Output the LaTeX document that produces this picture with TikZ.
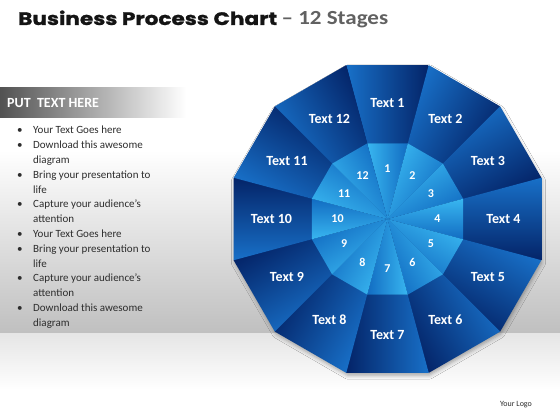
\documentclass[tikz,border=0pt]{standalone}
\usepackage{fontspec}
\setmainfont{Carlito}
\newfontfamily\titlefont[FakeStretch=1.2, FakeBold=1.2]{Poppins}
\newfontfamily\subfont[FakeStretch=1.15]{Carlito}
\usetikzlibrary{shadows.blur}
\definecolor{outL}{RGB}{24,112,200}
\definecolor{outD}{RGB}{4,36,104}
\definecolor{inL}{RGB}{56,182,240}
\definecolor{inD}{RGB}{18,108,194}
\definecolor{txtgray}{RGB}{45,45,45}
\tikzset{
  seglbl/.style={text=white, font=\bfseries\fontsize{14}{16}\selectfont, inner sep=0pt},
  numlbl/.style={text=white, font=\bfseries\fontsize{12}{14}\selectfont, inner sep=0pt},
}
\begin{document}
\begin{tikzpicture}[x=1pt,y=1pt]
\useasboundingbox (0,0) rectangle (560,420);
\fill[white] (0,0) rectangle (560,420);
% background gradient
\shade[top color=white, bottom color=black!25] (0,86) rectangle (560,270);
\shade[top color=black!10, bottom color=white] (0,30) rectangle (560,86);
% title
\node[anchor=base west, inner sep=0pt, text=black!92, font=\titlefont\bfseries\fontsize{18}{20}\selectfont] (title) at (18,395) {Business Process Chart};
\node[anchor=base west, inner sep=0pt, text=black!62, font=\subfont\bfseries\fontsize{20}{22}\selectfont] (sub) at ([xshift=4pt]title.base east) {– 12 Stages};
% header bar
\shade[left color=black!68, right color=white] (0,302) rectangle (186,332);
\node[anchor=west, inner sep=0pt, text=white, font=\bfseries\fontsize{14}{16}\selectfont] (hdr) at (7,317) {PUT\ \ TEXT HERE};
% bullet list
\node[anchor=base west, inner sep=0pt, text=txtgray, font=\fontsize{11}{14.8}\selectfont] (list) at (17,286) {%
\begin{tabular}[t]{@{}p{16pt}@{}l@{}}
• & Your Text Goes here\\
• & Download this awesome\\
  & diagram\\
• & Bring your presentation to\\
  & life\\
• & Capture your audience’s\\
  & attention\\
• & Your Text Goes here\\
• & Bring your presentation to\\
  & life\\
• & Capture your audience’s\\
  & attention\\
• & Download this awesome\\
  & diagram
\end{tabular}};
% logo
\node[inner sep=0pt, text=txtgray, font=\fontsize{8}{10}\selectfont] (logo) at (516,15) {Your Logo};
% dodecagon
\begin{scope}[shift={(387.5,201)}]
  \path[fill=outD, blur shadow={shadow xshift=1pt, shadow yshift=-3pt, shadow blur radius=4pt, shadow opacity=35}]
    (15:158.5) \foreach \i in {1,...,11}{ -- (15+30*\i:158.5)} -- cycle;
  \foreach \k in {1,...,12}{
    \pgfmathsetmacro{\a}{90-30*(\k-1)}
    \shade[top color=outL, bottom color=outD, shading angle=\a]
      (\a+15:78) -- (\a+15:159.3) -- (\a-15:159.3) -- (\a-15:78) -- cycle;
    \shade[top color=inL, bottom color=inD, shading angle=\a]
      (0,0) -- (\a+15:78.3) -- (\a-15:78.3) -- cycle;
  }
  \foreach \k in {1,...,12}{
    \pgfmathsetmacro{\a}{90-30*(\k-1)}
    \node[seglbl] (t\k) at (\a:116) {Text \k};
    \node[numlbl] (n\k) at (\a:50) {\k};
  }
\end{scope}
\end{tikzpicture}
\end{document}
